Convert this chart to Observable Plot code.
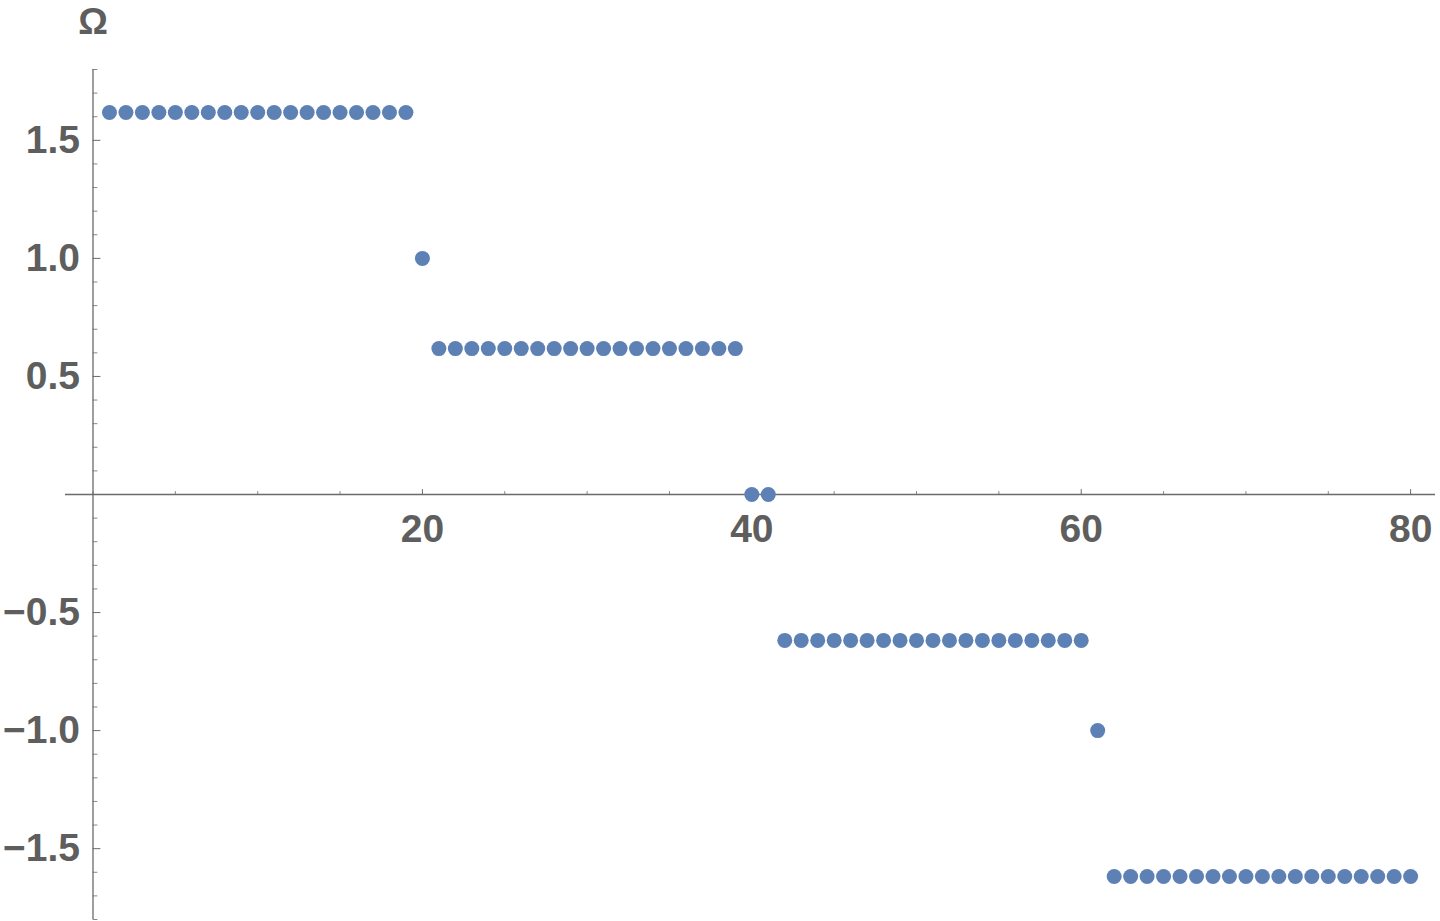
<!DOCTYPE html>
<html>
<head>
<meta charset="utf-8">
<script src="https://cdn.jsdelivr.net/npm/d3@7"></script>
<script src="https://cdn.jsdelivr.net/npm/@observablehq/plot@0.6"></script>
<style>
  html, body { margin: 0; padding: 0; background: #fff; }
  #chart svg { display: block; }
</style>
</head>
<body>
<div id="chart"></div>
<script>
// Data
const omega = [
  1.618, 1.618, 1.618, 1.618, 1.618, 1.618, 1.618, 1.618, 1.618, 1.618,
  1.618, 1.618, 1.618, 1.618, 1.618, 1.618, 1.618, 1.618, 1.618,
  1.0,
  0.618, 0.618, 0.618, 0.618, 0.618, 0.618, 0.618, 0.618, 0.618, 0.618,
  0.618, 0.618, 0.618, 0.618, 0.618, 0.618, 0.618, 0.618, 0.618,
  0.0, 0.0,
  -0.618, -0.618, -0.618, -0.618, -0.618, -0.618, -0.618, -0.618, -0.618, -0.618,
  -0.618, -0.618, -0.618, -0.618, -0.618, -0.618, -0.618, -0.618, -0.618,
  -1.0,
  -1.618, -1.618, -1.618, -1.618, -1.618, -1.618, -1.618, -1.618, -1.618, -1.618,
  -1.618, -1.618, -1.618, -1.618, -1.618, -1.618, -1.618, -1.618, -1.618
];
const xTickLabels = [20, 40, 60, 80];
const xMinorTicks = [0, 5, 10, 15, 25, 30, 35, 45, 50, 55, 65, 70, 75];
const yTickLabels = [-1.5, -1.0, -0.5, 0.5, 1.0, 1.5];
const yMinorTicks = [-1.8, -1.7, -1.6, -1.4, -1.3, -1.2, -1.1, -0.9, -0.8, -0.7, -0.6, -0.4, -0.3, -0.2, -0.1,
                     0.1, 0.2, 0.3, 0.4, 0.6, 0.7, 0.8, 0.9, 1.1, 1.2, 1.3, 1.4, 1.6, 1.7, 1.8];
const yLabel = "Ω";

const points = omega.map((v, i) => ({n: i + 1, omega: v}));

const axisColor = "#6a6a6a";
const textColor = "#5e5e5e";
const dotColor = "#5e81b5";
const font = "'Liberation Sans', Arial, Helvetica, sans-serif";

const tickUp = {draw(ctx, l) { ctx.moveTo(0, 0); ctx.lineTo(0, -l); }};
const tickRight = {draw(ctx, l) { ctx.moveTo(0, 0); ctx.lineTo(l, 0); }};

const chart = Plot.plot({
  width: 1440,
  height: 921,
  marginLeft: 65,
  marginRight: 5,
  marginTop: 69,
  marginBottom: 2,
  style: {background: "#fff", fontFamily: font},
  x: {domain: [-1.67, 81.51], axis: null},
  y: {domain: [-1.8, 1.8], axis: null},
  marks: [
    Plot.ruleY([0], {stroke: axisColor, strokeWidth: 1.3}),
    Plot.ruleX([0], {stroke: axisColor, strokeWidth: 1.3}),
    Plot.vector(xTickLabels, {x: d => d, y: 0, length: 5, anchor: "start", shape: tickUp, stroke: axisColor, strokeWidth: 1}),
    Plot.vector(xMinorTicks, {x: d => d, y: 0, length: 3, anchor: "start", shape: tickUp, stroke: axisColor, strokeWidth: 0.8}),
    Plot.vector(yTickLabels, {x: 0, y: d => d, length: 7, anchor: "start", shape: tickRight, stroke: axisColor, strokeWidth: 1}),
    Plot.vector(yMinorTicks, {x: 0, y: d => d, length: 4, anchor: "start", shape: tickRight, stroke: axisColor, strokeWidth: 0.8}),
    Plot.text(xTickLabels, {x: d => d, y: 0, text: d => d3.format("d")(d), dy: 35, lineAnchor: "middle", textAnchor: "middle",
      fontSize: 39, fontWeight: "bold", fill: textColor}),
    Plot.text(yTickLabels, {x: 0, y: d => d, text: d => d3.format(".1f")(d), dx: -13, lineAnchor: "middle", textAnchor: "end",
      fontSize: 39, fontWeight: "bold", fill: textColor}),
    Plot.text([yLabel], {x: 0, y: 1.8, text: d => d, dy: -47, lineAnchor: "middle", textAnchor: "middle",
      fontSize: 37, fontWeight: "bold", fill: textColor}),
    Plot.dot(points, {x: "n", y: "omega", r: 7.5, fill: dotColor, stroke: "none"})
  ]
});
document.getElementById("chart").appendChild(chart);
</script>
</body>
</html>
